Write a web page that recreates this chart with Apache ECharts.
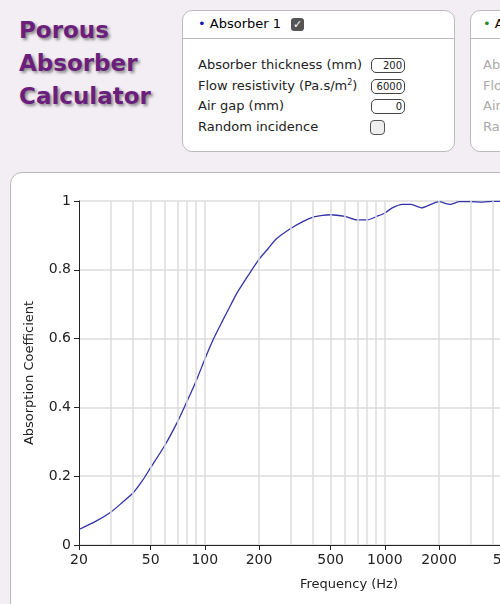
<!DOCTYPE html>
<html>
<head>
<meta charset="utf-8">
<script src="https://cdn.jsdelivr.net/npm/echarts@6/dist/echarts.min.js"></script>
<style>
  body { margin:0; width:500px; height:604px; overflow:hidden; background:#f3eef4; font-family:"DejaVu Sans",sans-serif; position:relative; }
  .title { position:absolute; left:19px; top:14px; color:#6b1f7c; font-weight:bold; font-size:23px; line-height:33px; text-shadow:2px 2px 3px #888; }
  .panel { position:absolute; top:10px; height:140px; background:#fff; border:1px solid #bbb; border-radius:10px; }
  .panel .head { height:27px; border-bottom:1px solid #bbb; font-size:13px; line-height:26px; padding-left:15px; }
  .row { font-size:13px; color:#222; height:20.5px; line-height:20px; position:relative; padding-left:15px; }
  .row sup { font-size:8px; line-height:0; vertical-align:5px; }
  .inp { position:absolute; left:188px; top:3px; width:30px; height:13px; border:1px solid #444; border-radius:5px; font-size:10px; text-align:right; line-height:13px; padding-right:2px; }
  .cb { position:absolute; left:187px; top:3px; width:13px; height:13px; border:1px solid #555; border-radius:4px; background:#eee; }
  .box { position:absolute; left:10px; top:172px; width:700px; height:460px; background:#fff; border:1px solid #bbb; border-radius:12px; }
  #chart { position:absolute; left:0; top:172px; width:700px; height:432px; }
</style>
</head>
<body>
<div class="title">Porous<br>Absorber<br>Calculator</div>
<div class="panel" style="left:182px;width:271px;">
  <div class="head"><span style="color:#1a1ab0">•</span> Absorber 1 <span style="display:inline-block;width:13px;height:13px;background:#555;color:#fff;border-radius:3px;font-size:11px;line-height:13px;text-align:center;margin-left:6px;">✓</span></div>
  <div style="height:16px"></div>
  <div class="row">Absorber thickness (mm)<span class="inp">200</span></div>
  <div class="row">Flow resistivity (Pa.s/m<sup>2</sup>)<span class="inp">6000</span></div>
  <div class="row">Air gap (mm)<span class="inp">0</span></div>
  <div class="row">Random incidence<span class="cb"></span></div>
</div>
<div class="panel" style="left:470px;width:200px;">
  <div class="head" style="padding-left:12px"><span style="color:#2a8a2a">•</span> Absorber 2</div>
  <div style="height:16px"></div>
  <div class="row" style="color:#aaa;padding-left:12px">Absorber thickness</div>
  <div class="row" style="color:#aaa;padding-left:12px">Flow resistivity</div>
  <div class="row" style="color:#aaa;padding-left:12px">Air gap</div>
  <div class="row" style="color:#aaa;padding-left:12px">Random</div>
</div>
<div class="box"></div>
<div id="chart"></div>
<script>
const freqs = [20,25,30,35,40,45,50,60,70,80,90,100,112,125,140,150,175,200,225,250,300,350,400,450,500,600,700,800,900,1000,1100,1250,1400,1600,1800,2000,2300,2600,3000,3500,4000,5000,7000,10000,20000];
const alpha = [0.045,0.07,0.095,0.125,0.152,0.187,0.225,0.29,0.355,0.42,0.48,0.54,0.60,0.65,0.70,0.73,0.785,0.83,0.862,0.89,0.92,0.94,0.953,0.958,0.96,0.955,0.945,0.945,0.955,0.965,0.98,0.99,0.99,0.98,0.99,0.998,0.99,0.998,0.998,0.997,0.999,0.999,1.0,1.0,1.0];
const labelFreqs = [20,50,100,200,500,1000,2000,5000,10000,20000];
const gridFreqs = [30,40,50,60,70,80,90,100,200,300,400,500,600,700,800,900,1000,2000,3000,4000,5000,6000,7000,8000,9000,10000];

const lg = Math.log10;
const chart = echarts.init(document.getElementById('chart'));
chart.setOption({
  animation:false,
  grid:{left:79, top:29, width:540, height:344},
  xAxis:{
    type:'value', min:lg(20), max:lg(20000),
    name:'Frequency (Hz)', nameLocation:'middle', nameGap:33,
    nameTextStyle:{color:'#222', fontSize:13, fontFamily:'DejaVu Sans', padding:[0,0,0,0]},
    axisLine:{lineStyle:{color:'#222'}},
    axisTick:{customValues:labelFreqs.map(lg), lineStyle:{color:'#222'}},
    axisLabel:{customValues:labelFreqs.map(lg), color:'#222', fontSize:14, fontFamily:'DejaVu Sans',
      formatter:v=>String(Math.round(Math.pow(10,v)))},
    splitLine:{show:false}
  },
  yAxis:{
    type:'value', min:0, max:1, interval:0.2,
    name:'Absorption Coefficient', nameLocation:'middle', nameGap:43,
    nameTextStyle:{color:'#222', fontSize:13, fontFamily:'DejaVu Sans'},
    axisLine:{show:true, lineStyle:{color:'#222'}},
    axisTick:{show:true, lineStyle:{color:'#222'}},
    axisLabel:{color:'#222', fontSize:14, fontFamily:'DejaVu Sans'},
    splitLine:{lineStyle:{color:'#ddd', width:1.5}}
  },
  series:[{
    type:'line', data:freqs.map((f,i)=>[lg(f),alpha[i]]),
    smooth:0.25, showSymbol:false,
    lineStyle:{color:'#3333aa', width:1.3},
    markLine:{silent:true, symbol:'none', label:{show:false},
      lineStyle:{color:'#ddd', type:'solid', width:1.5},
      data:gridFreqs.map(f=>({xAxis:lg(f)}))},
    z:3
  }]
});
</script>
</body>
</html>
